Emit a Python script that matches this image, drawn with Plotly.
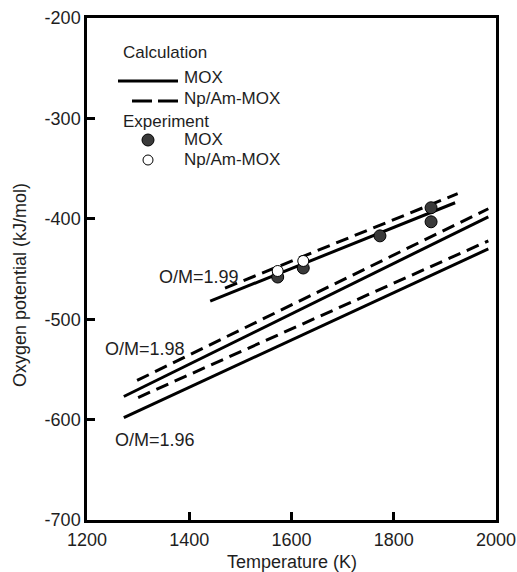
import plotly.graph_objects as go

# Calculated oxygen-potential lines (two end points each), per O/M ratio
om_ratios = ["1.99", "1.98", "1.96"]

mox_T = [[1441, 1920], [1272, 1985], [1272, 1985]]
mox_V = [[-482, -384], [-577, -398], [-598, -430]]

npam_T = [[1470, 1925], [1298, 1985], [1300, 1985]]
npam_V = [[-469, -375], [-561, -390], [-578, -422]]

# Experimental points
exp_mox_T = [1573, 1623, 1773, 1873, 1873]
exp_mox_V = [-458, -449, -417, -389, -403]
exp_npam_T = [1573, 1623]
exp_npam_V = [-452, -442]

# O/M label anchors (left edge, vertical centre)
om_label_T = [1337, 1231, 1250]
om_label_V = [-458, -530, -620]

x_ticks = [1200, 1400, 1600, 1800, 2000]
y_ticks = [-700, -600, -500, -400, -300, -200]
y_tick_text = [f"-{abs(v)}" for v in y_ticks]

FONT = "Liberation Sans, Arial, Helvetica, sans-serif"
TXT = "#1e1e1e"
FS = 18

fig = go.Figure()

for T, V in zip(mox_T, mox_V):
    fig.add_trace(go.Scatter(x=T, y=V, mode="lines",
                             line=dict(color="black", width=3),
                             showlegend=False, hoverinfo="skip"))
for T, V in zip(npam_T, npam_V):
    fig.add_trace(go.Scatter(x=T, y=V, mode="lines",
                             line=dict(color="black", width=3, dash="13px,7px"),
                             showlegend=False, hoverinfo="skip"))

fig.add_trace(go.Scatter(x=exp_mox_T, y=exp_mox_V, mode="markers",
                         marker=dict(symbol="circle", size=12, color="#3a3a3a",
                                     line=dict(color="black", width=1)),
                         showlegend=False))
fig.add_trace(go.Scatter(x=exp_npam_T, y=exp_npam_V, mode="markers",
                         marker=dict(symbol="circle", size=11, color="white",
                                     line=dict(color="black", width=1)),
                         showlegend=False))

annotations = []
for r, T, V in zip(om_ratios, om_label_T, om_label_V):
    annotations.append(dict(x=T, y=V, xref="x", yref="y", text=f"O/M={r}",
                            showarrow=False, xanchor="left", yanchor="middle",
                            font=dict(family=FONT, size=FS, color=TXT)))

# Plot-area edges in pixels
L, R, T0, B = 87, 496, 18, 520


def px(x):
    return (x - L) / (R - L)


def py(y):
    return (B - y) / (B - T0)


# Axis titles
annotations.append(dict(x=px(20), y=py(285), xref="paper", yref="paper",
                        text="Oxygen potential (kJ/mol)", textangle=-90,
                        showarrow=False, xanchor="center", yanchor="middle",
                        font=dict(family=FONT, size=FS, color=TXT)))
annotations.append(dict(x=0.5, y=py(562), xref="paper", yref="paper",
                        text="Temperature (K)",
                        showarrow=False, xanchor="center", yanchor="middle",
                        font=dict(family=FONT, size=FS, color=TXT)))

# Hand-built key in the upper-left corner of the plot area
key_text = [("Calculation", 121, 52), ("MOX", 182, 77), ("Np/Am-MOX", 182, 99),
            ("Experiment", 121, 121), ("MOX", 182, 139), ("Np/Am-MOX", 182, 160)]
for t, x, y in key_text:
    annotations.append(dict(x=px(x), y=py(y), xref="paper", yref="paper", text=t,
                            showarrow=False, xanchor="left", yanchor="middle",
                            font=dict(family=FONT, size=17, color=TXT)))

shapes = [
    dict(type="line", xref="paper", yref="paper", x0=px(118), x1=px(178),
         y0=py(81), y1=py(81), line=dict(color="black", width=3)),
    dict(type="line", xref="paper", yref="paper", x0=px(132), x1=px(178),
         y0=py(101), y1=py(101), line=dict(color="black", width=3, dash="20px,6px")),
    dict(type="circle", xref="paper", yref="paper", x0=px(142), x1=px(154),
         y0=py(134), y1=py(146), fillcolor="#3a3a3a", line=dict(color="black", width=1)),
    dict(type="circle", xref="paper", yref="paper", x0=px(143), x1=px(153),
         y0=py(155), y1=py(165), fillcolor="white", line=dict(color="black", width=1)),
]

axis_common = dict(showgrid=False, zeroline=False, showline=True, mirror=True,
                   linecolor="black", linewidth=2.5, ticks="inside", tickwidth=2.5,
                   tickcolor="black", ticklen=8, automargin=False,
                   tickfont=dict(family=FONT, size=FS, color=TXT))

fig.update_layout(
    width=517, height=572,
    margin=dict(l=L, r=517 - R, t=T0, b=572 - B, autoexpand=False),
    paper_bgcolor="white", plot_bgcolor="white",
    xaxis=dict(range=[1200, 2000], tickvals=x_ticks, ticklabelstandoff=2,
               **axis_common),
    yaxis=dict(range=[-700, -200], tickvals=y_ticks, ticktext=y_tick_text,
               **axis_common),
    annotations=annotations,
    shapes=shapes,
)

fig.write_html("out.html")
